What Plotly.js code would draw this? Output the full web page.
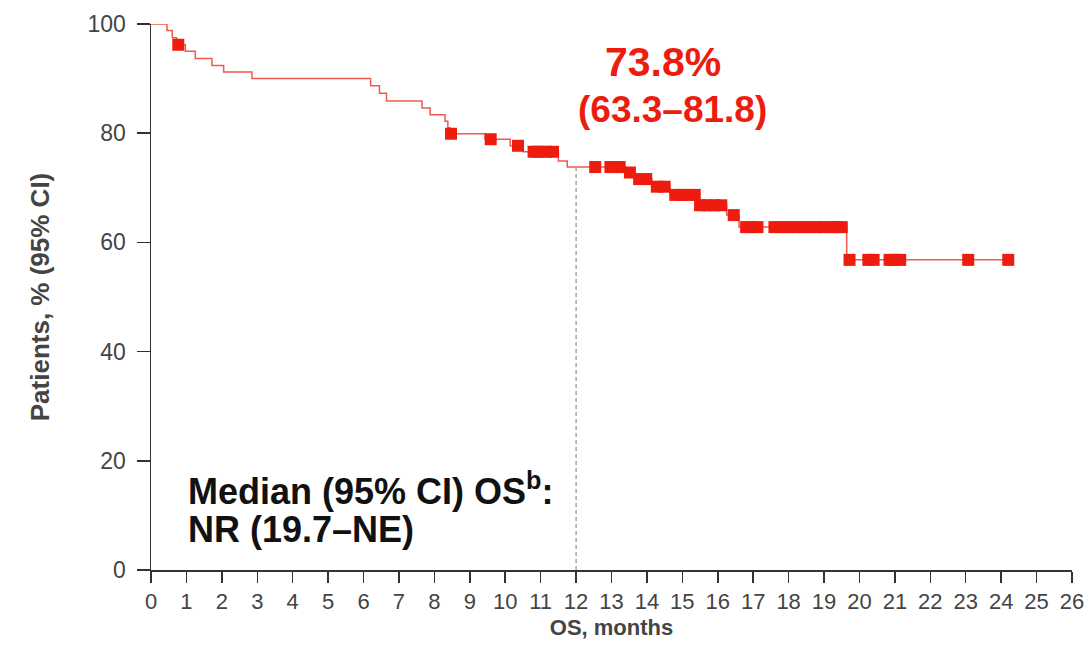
<!DOCTYPE html>
<html>
<head>
<meta charset="utf-8">
<script src="https://cdn.plot.ly/plotly-3.0.1.min.js"></script>
<style>html,body{margin:0;padding:0;background:#fff;}#chart{width:1089px;height:650px;}</style>
</head>
<body>
<div id="chart"></div>
<script>
// Kaplan-Meier step points (time in months, survival %)
const kmTime = [0, 0.45, 0.6, 0.72, 0.97, 1.25, 1.72, 2.05, 2.85, 6.2, 6.45, 6.65, 7.65, 7.88, 8.3, 8.38, 8.44, 9.43, 10.14, 10.5, 11.5, 11.75, 13.4, 13.65, 14.14, 14.65, 15.36, 16.25, 16.6, 19.64];
const kmSurv = [100, 98.8, 97.5, 96.2, 95.0, 93.7, 92.4, 91.2, 90.0, 88.7, 87.3, 85.9, 84.6, 83.4, 82.2, 81.0, 79.9, 78.9, 77.7, 76.6, 74.9, 73.8, 72.8, 71.6, 70.2, 68.7, 66.8, 65.0, 62.8, 56.8];
// Censoring times (months)
const censorTime = [0.77, 8.47, 9.59, 10.36, 10.8, 10.95, 11.15, 11.35, 12.54, 12.97, 13.1, 13.23, 13.52, 13.78, 13.98, 14.28, 14.5, 14.8, 15.0, 15.17, 15.35, 15.5, 15.7, 15.9, 16.1, 16.45, 16.8, 16.95, 17.12, 17.6, 17.8, 18.0, 18.2, 18.4, 18.6, 18.8, 19.0, 19.2, 19.35, 19.5, 19.72, 20.25, 20.4, 20.85, 21.0, 21.15, 23.07, 24.2];
const lastTime = 24.2;
const landmarkTime = 12;
const landmarkSurv = 73.8;
const xTicks = [0,1,2,3,4,5,6,7,8,9,10,11,12,13,14,15,16,17,18,19,20,21,22,23,24,25,26];
const yTicks = [0,20,40,60,80,100];

function survAt(t){
  let s = kmSurv[0];
  for (let i=0;i<kmTime.length;i++){ if (kmTime[i] <= t) s = kmSurv[i]; }
  return s;
}
const lineX = kmTime.concat([lastTime]);
const lineY = kmSurv.concat([survAt(lastTime)]);
const censorSurv = censorTime.map(survAt);

const red = '#ee1c0e';
const ff = 'Liberation Sans, Arial, sans-serif';
const traces = [
  {x: [landmarkTime, landmarkTime], y: [0, landmarkSurv], mode: 'lines', line: {color: '#7a7a7a', width: 1, dash: '4px,3px'}, hoverinfo: 'skip', showlegend: false},
  {x: lineX, y: lineY, mode: 'lines', line: {color: '#f05a4e', width: 1.5, shape: 'hv'}, showlegend: false, cliponaxis: false},
  {x: censorTime, y: censorSurv, mode: 'markers', marker: {symbol: 'square', size: 12, color: red}, showlegend: false, cliponaxis: false}
];

const layout = {
  width: 1089, height: 650,
  margin: {l: 151, r: 17, t: 24, b: 80, pad: 0},
  paper_bgcolor: '#fff', plot_bgcolor: '#fff',
  xaxis: {
    range: [0, 26], tickvals: xTicks, ticktext: xTicks.map(String),
    showgrid: false, zeroline: false, showline: true, linecolor: '#333', linewidth: 1.5,
    ticks: 'outside', ticklen: 11, tickcolor: '#333', tickwidth: 1.5,
    tickfont: {family: ff, size: 22, color: '#444'},
    title: {text: '<b>OS, months</b>', font: {family: ff, size: 22, color: '#444'}, standoff: 6}
  },
  yaxis: {
    range: [0, 100], tickvals: yTicks, ticktext: yTicks.map(String),
    showgrid: false, zeroline: false, showline: true, linecolor: '#333', linewidth: 1.5,
    ticks: 'outside', ticklen: 13, tickcolor: '#333', tickwidth: 1.5,
    ticklabelstandoff: 6,
    tickfont: {family: ff, size: 23, color: '#444'},
    title: {text: '<b>Patients, % (95% CI)</b>', font: {family: ff, size: 26, color: '#444'}, standoff: 30}
  },
  annotations: [
    {x: 14.46, y: 93.0, xref: 'x', yref: 'y', text: '<b>73.8%</b>', showarrow: false, font: {family: ff, size: 41, color: red}, xanchor: 'center', yanchor: 'middle'},
    {x: 14.72, y: 84.4, xref: 'x', yref: 'y', text: '<b>(63.3–81.8)</b>', showarrow: false, font: {family: ff, size: 37, color: red}, xanchor: 'center', yanchor: 'middle'},
    {x: 1.0, y: 14.8, xref: 'x', yref: 'y', text: '<b>Median (95% CI) OS<sup>b</sup>:</b>', showarrow: false, font: {family: ff, size: 36, color: '#111'}, xanchor: 'left', yanchor: 'middle'},
    {x: 1.0, y: 7.4, xref: 'x', yref: 'y', text: '<b>NR (19.7–NE)</b>', showarrow: false, font: {family: ff, size: 36, color: '#111'}, xanchor: 'left', yanchor: 'middle'}
  ]
};
Plotly.newPlot('chart', traces, layout, {displayModeBar: false, staticPlot: true});
</script>
</body>
</html>
